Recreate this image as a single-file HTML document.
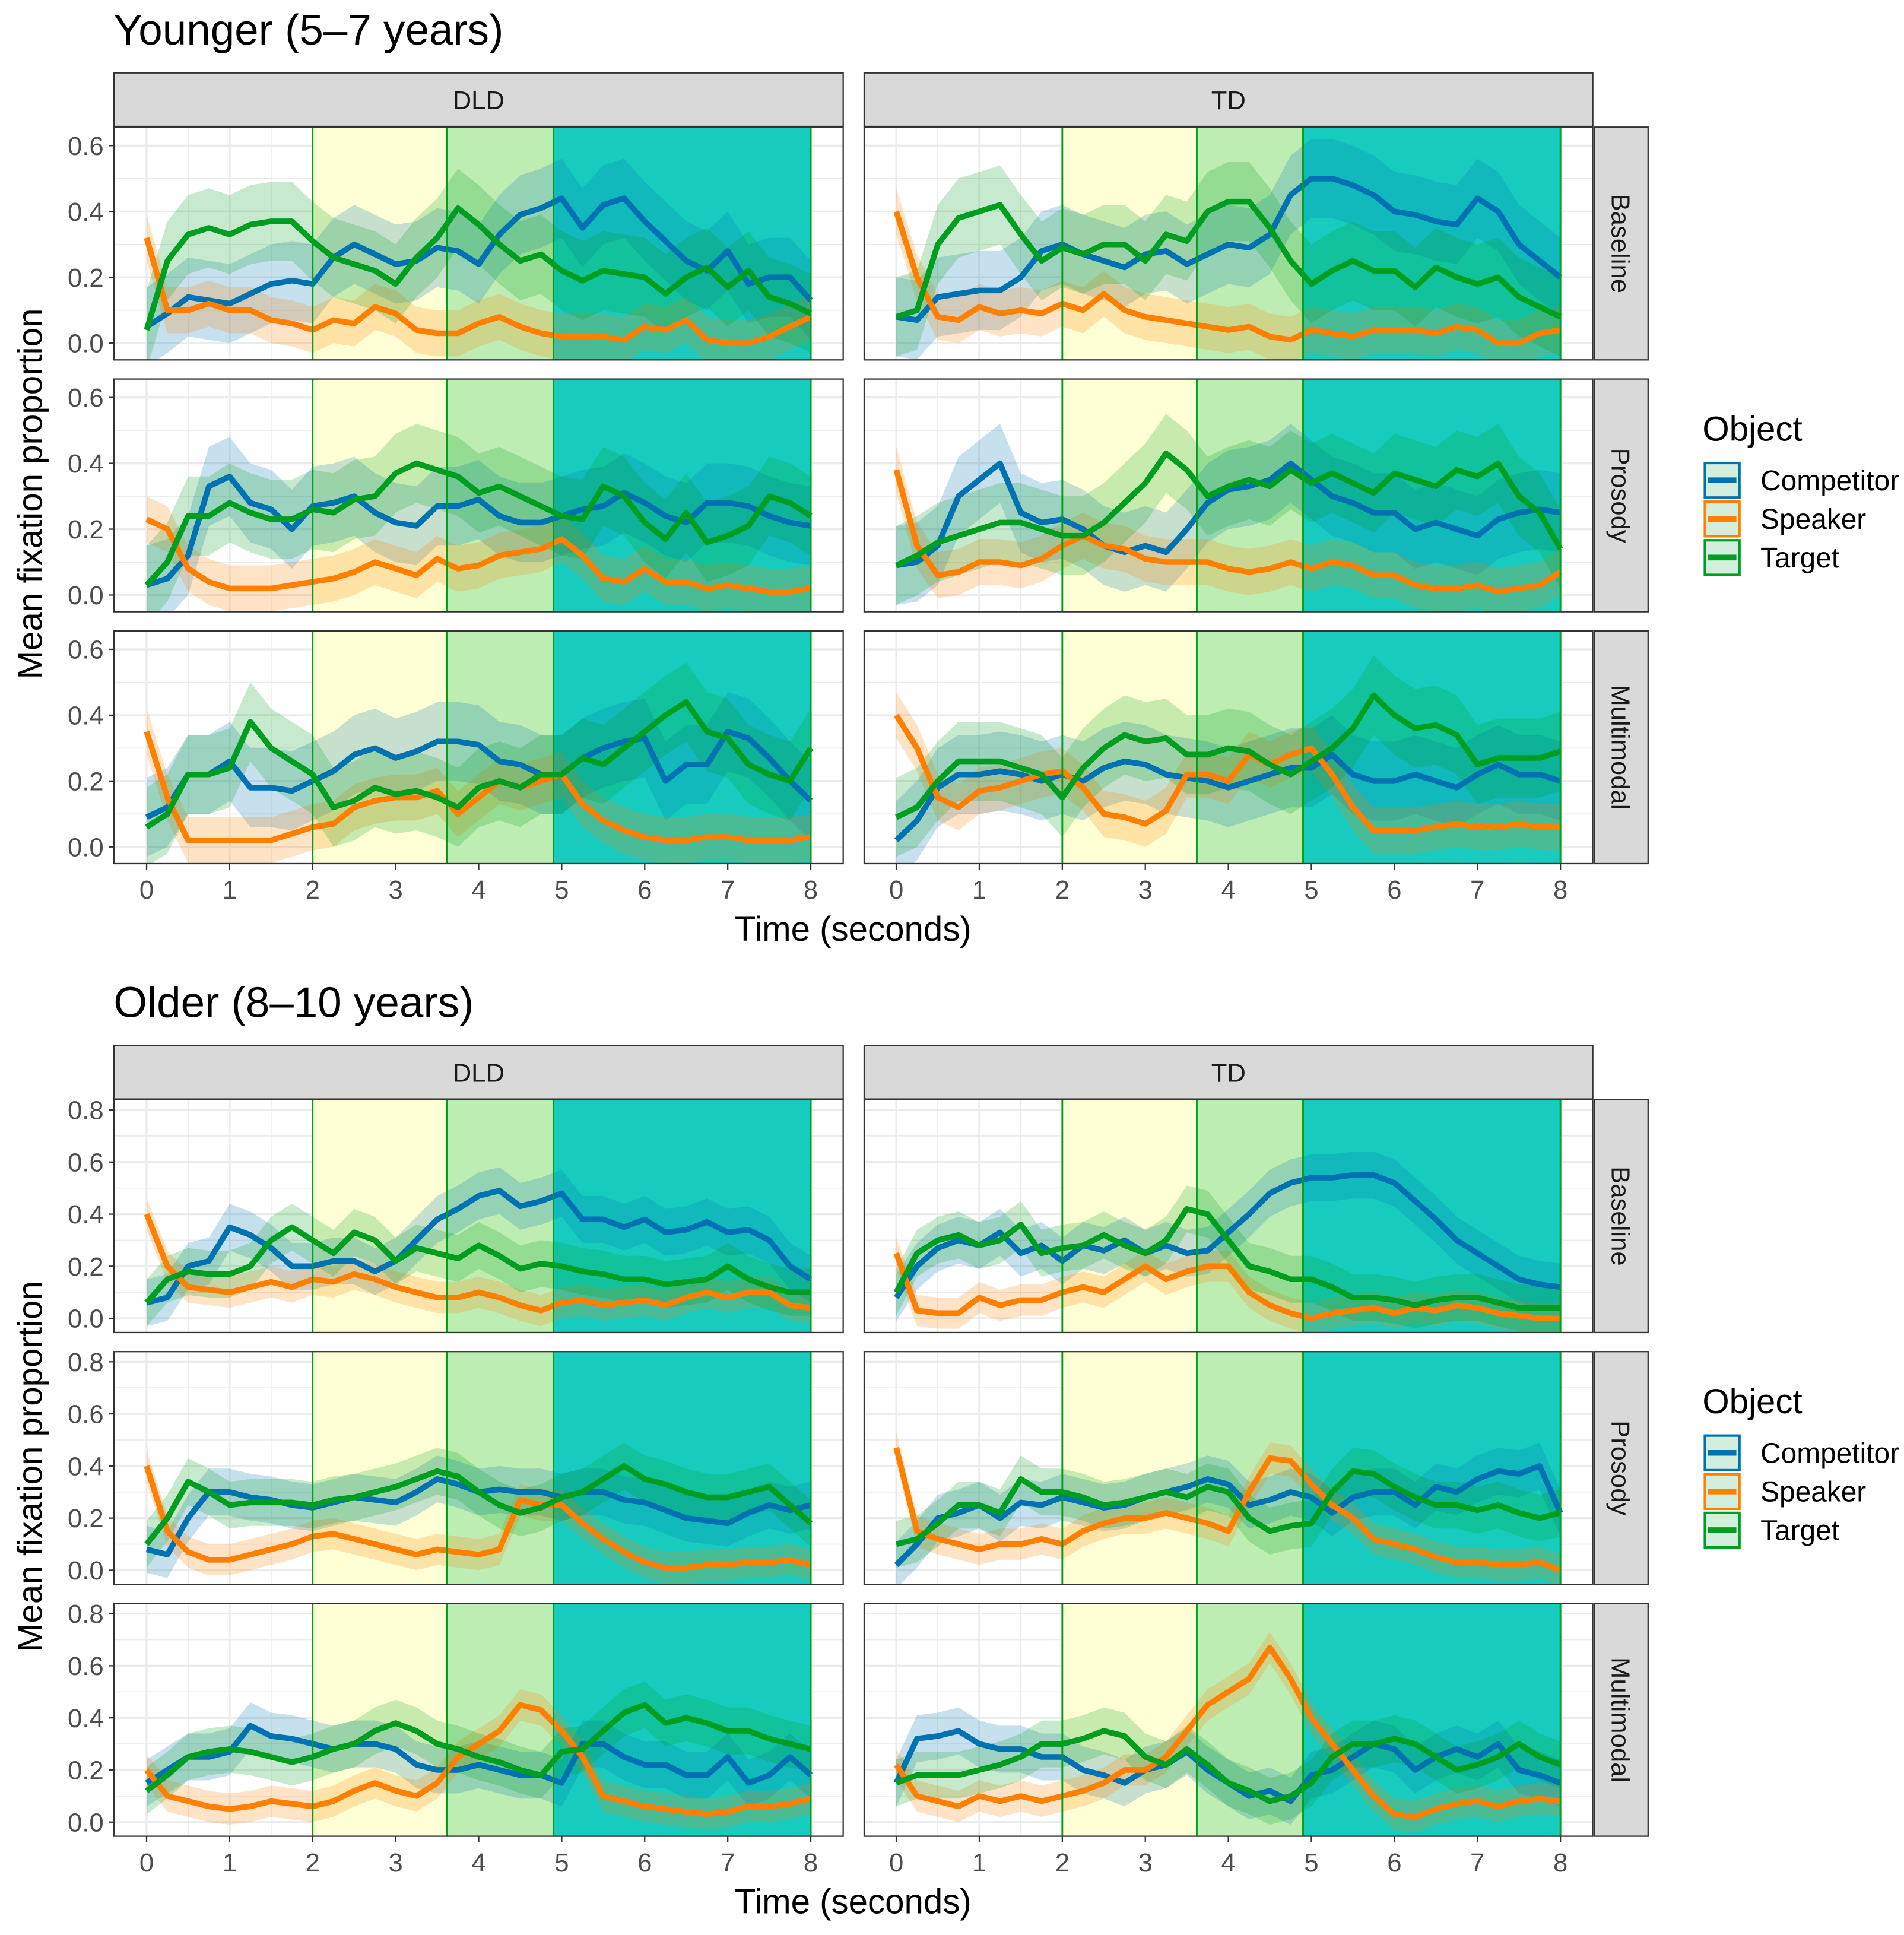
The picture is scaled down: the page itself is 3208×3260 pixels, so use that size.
<!DOCTYPE html>
<html><head><meta charset="utf-8">
<style>
html,body{margin:0;padding:0;background:#fff;}
svg{display:block;font-family:"Liberation Sans",Arial,sans-serif;}
</style></head>
<body>
<svg id="chart" xmlns="http://www.w3.org/2000/svg" width="3208" height="3260" viewBox="0 0 1542.3 1567.3"></svg>
<script>
// ---- data ----
const timePoints = [0,0.25,0.5,0.75,1,1.25,1.5,1.75,2,2.25,2.5,2.75,3,3.25,3.5,3.75,4,4.25,4.5,4.75,5,5.25,5.5,5.75,6,6.25,6.5,6.75,7,7.25,7.5,7.75,8];
const objects = ["Competitor","Speaker","Target"];
const groups = ["DLD","TD"];
const conditions = ["Baseline","Prosody","Multimodal"];
const blockTitles = ["Younger (5–7 years)","Older (8–10 years)"];
const phaseBounds = [2, 3.62, 4.9, 8];
const xTicks = [0,1,2,3,4,5,6,7,8];
const yTicksYoung = [0,0.2,0.4,0.6];
const yTicksOld = [0,0.2,0.4,0.6,0.8];
const ciHalfYoung = [0.12,0.07,0.12];
const ciHalfOld = [0.09,0.06,0.09];

// Younger
const yBaseDLD_C=[0.05,0.09,0.14,0.13,0.12,0.15,0.18,0.19,0.18,0.26,0.30,0.27,0.24,0.25,0.29,0.28,0.24,0.33,0.39,0.41,0.44,0.35,0.42,0.44,0.37,0.31,0.25,0.22,0.28,0.18,0.20,0.20,0.13];
const yBaseDLD_S=[0.32,0.10,0.10,0.12,0.10,0.10,0.07,0.06,0.04,0.07,0.06,0.11,0.09,0.04,0.03,0.03,0.06,0.08,0.05,0.03,0.02,0.02,0.02,0.01,0.05,0.04,0.07,0.01,0.00,0.00,0.02,0.05,0.08];
const yBaseDLD_T=[0.04,0.25,0.33,0.35,0.33,0.36,0.37,0.37,0.31,0.26,0.24,0.22,0.18,0.26,0.32,0.41,0.36,0.30,0.25,0.27,0.22,0.19,0.22,0.21,0.20,0.15,0.20,0.23,0.17,0.22,0.14,0.12,0.09];
const yBaseTD_C=[0.08,0.07,0.14,0.15,0.16,0.16,0.20,0.28,0.30,0.27,0.25,0.23,0.27,0.28,0.24,0.27,0.30,0.29,0.33,0.45,0.50,0.50,0.48,0.45,0.40,0.39,0.37,0.36,0.44,0.40,0.30,0.25,0.20];
const yBaseTD_S=[0.40,0.20,0.08,0.07,0.11,0.09,0.10,0.09,0.12,0.10,0.15,0.10,0.08,0.07,0.06,0.05,0.04,0.05,0.02,0.01,0.04,0.03,0.02,0.04,0.04,0.04,0.03,0.05,0.04,0.00,0.00,0.03,0.04];
const yBaseTD_T=[0.08,0.10,0.30,0.38,0.40,0.42,0.33,0.25,0.29,0.27,0.30,0.30,0.25,0.33,0.31,0.40,0.43,0.43,0.35,0.25,0.18,0.22,0.25,0.22,0.22,0.17,0.23,0.20,0.18,0.20,0.14,0.11,0.08];
const yProsDLD_C=[0.03,0.05,0.12,0.33,0.36,0.28,0.26,0.20,0.27,0.28,0.30,0.25,0.22,0.21,0.27,0.27,0.29,0.24,0.22,0.22,0.24,0.26,0.27,0.31,0.28,0.24,0.22,0.28,0.28,0.27,0.24,0.22,0.21];
const yProsDLD_S=[0.23,0.20,0.08,0.04,0.02,0.02,0.02,0.03,0.04,0.05,0.07,0.10,0.08,0.06,0.11,0.08,0.09,0.12,0.13,0.14,0.17,0.12,0.05,0.04,0.08,0.04,0.04,0.02,0.03,0.02,0.01,0.01,0.02];
const yProsDLD_T=[0.03,0.10,0.24,0.24,0.28,0.25,0.23,0.23,0.26,0.25,0.29,0.30,0.37,0.40,0.38,0.36,0.31,0.33,0.30,0.27,0.24,0.23,0.33,0.30,0.22,0.17,0.25,0.16,0.18,0.21,0.30,0.28,0.24];
const yProsTD_C=[0.09,0.10,0.15,0.30,0.35,0.40,0.25,0.22,0.23,0.20,0.15,0.13,0.15,0.13,0.20,0.28,0.32,0.33,0.35,0.40,0.35,0.30,0.28,0.25,0.25,0.20,0.22,0.20,0.18,0.23,0.25,0.26,0.25];
const yProsTD_S=[0.38,0.15,0.06,0.07,0.10,0.10,0.09,0.11,0.15,0.18,0.15,0.14,0.11,0.10,0.10,0.10,0.08,0.07,0.08,0.10,0.08,0.10,0.09,0.06,0.06,0.03,0.02,0.02,0.03,0.01,0.02,0.03,0.07];
const yProsTD_T=[0.09,0.12,0.16,0.18,0.20,0.22,0.22,0.20,0.18,0.18,0.22,0.28,0.34,0.43,0.38,0.30,0.33,0.35,0.33,0.38,0.34,0.37,0.34,0.31,0.37,0.35,0.33,0.38,0.36,0.40,0.30,0.25,0.14];
const yMultDLD_C=[0.09,0.12,0.22,0.22,0.26,0.18,0.18,0.17,0.20,0.23,0.28,0.30,0.27,0.29,0.32,0.32,0.31,0.26,0.25,0.22,0.22,0.27,0.30,0.32,0.33,0.20,0.25,0.25,0.35,0.33,0.27,0.20,0.14];
const yMultDLD_S=[0.35,0.15,0.02,0.02,0.02,0.02,0.02,0.04,0.06,0.07,0.12,0.14,0.15,0.15,0.17,0.10,0.15,0.20,0.18,0.20,0.22,0.13,0.08,0.05,0.03,0.02,0.02,0.03,0.03,0.02,0.02,0.02,0.03];
const yMultDLD_T=[0.06,0.10,0.22,0.22,0.24,0.38,0.30,0.26,0.22,0.12,0.14,0.18,0.16,0.17,0.15,0.12,0.18,0.20,0.18,0.22,0.22,0.27,0.25,0.30,0.35,0.40,0.44,0.35,0.33,0.25,0.22,0.20,0.30];
const yMultTD_C=[0.02,0.08,0.18,0.22,0.22,0.23,0.22,0.20,0.22,0.20,0.24,0.26,0.25,0.22,0.21,0.20,0.18,0.20,0.22,0.24,0.24,0.28,0.22,0.20,0.20,0.22,0.20,0.18,0.22,0.25,0.22,0.22,0.20];
const yMultTD_S=[0.40,0.30,0.15,0.12,0.17,0.18,0.20,0.22,0.23,0.18,0.10,0.09,0.07,0.11,0.22,0.22,0.20,0.28,0.25,0.28,0.30,0.22,0.12,0.05,0.05,0.05,0.06,0.07,0.06,0.06,0.07,0.06,0.06];
const yMultTD_T=[0.09,0.12,0.20,0.26,0.26,0.26,0.24,0.22,0.15,0.24,0.30,0.34,0.32,0.33,0.28,0.28,0.30,0.29,0.25,0.22,0.26,0.30,0.36,0.46,0.40,0.36,0.37,0.34,0.25,0.27,0.27,0.27,0.29];
// Older
const oBaseDLD_C=[0.06,0.08,0.20,0.22,0.35,0.32,0.27,0.20,0.20,0.22,0.22,0.18,0.22,0.30,0.38,0.42,0.47,0.49,0.43,0.45,0.48,0.38,0.38,0.35,0.38,0.33,0.34,0.37,0.33,0.34,0.30,0.20,0.15];
const oBaseDLD_S=[0.40,0.20,0.12,0.11,0.10,0.12,0.14,0.12,0.15,0.14,0.17,0.15,0.12,0.10,0.08,0.08,0.10,0.08,0.05,0.03,0.06,0.07,0.05,0.06,0.07,0.05,0.08,0.10,0.08,0.10,0.10,0.05,0.04];
const oBaseDLD_T=[0.06,0.15,0.18,0.17,0.17,0.20,0.30,0.35,0.30,0.25,0.33,0.30,0.22,0.27,0.25,0.23,0.28,0.24,0.19,0.21,0.20,0.18,0.17,0.15,0.15,0.13,0.14,0.15,0.20,0.15,0.12,0.10,0.10];
const oBaseTD_C=[0.08,0.20,0.27,0.30,0.28,0.33,0.25,0.28,0.22,0.28,0.26,0.30,0.25,0.28,0.25,0.26,0.33,0.40,0.48,0.52,0.54,0.54,0.55,0.55,0.52,0.45,0.38,0.30,0.25,0.20,0.15,0.13,0.12];
const oBaseTD_S=[0.25,0.03,0.02,0.02,0.08,0.05,0.07,0.07,0.10,0.12,0.10,0.15,0.20,0.15,0.18,0.20,0.20,0.10,0.05,0.02,0.00,0.02,0.03,0.04,0.02,0.04,0.03,0.05,0.04,0.02,0.01,0.00,0.00];
const oBaseTD_T=[0.10,0.25,0.30,0.32,0.28,0.30,0.36,0.25,0.27,0.28,0.32,0.28,0.25,0.30,0.42,0.40,0.30,0.20,0.18,0.15,0.15,0.12,0.08,0.08,0.07,0.05,0.07,0.08,0.08,0.06,0.04,0.04,0.04];
const oProsDLD_C=[0.08,0.06,0.20,0.30,0.30,0.28,0.27,0.25,0.24,0.26,0.28,0.27,0.26,0.30,0.35,0.33,0.30,0.31,0.30,0.30,0.28,0.30,0.30,0.27,0.26,0.23,0.20,0.19,0.18,0.22,0.25,0.23,0.25];
const oProsDLD_S=[0.40,0.15,0.07,0.04,0.04,0.06,0.08,0.10,0.13,0.14,0.12,0.10,0.08,0.06,0.08,0.07,0.06,0.08,0.27,0.25,0.25,0.18,0.12,0.07,0.03,0.01,0.01,0.02,0.02,0.03,0.03,0.04,0.02];
const oProsDLD_T=[0.10,0.20,0.34,0.30,0.25,0.26,0.26,0.26,0.25,0.27,0.28,0.30,0.32,0.35,0.38,0.36,0.30,0.25,0.22,0.24,0.28,0.30,0.35,0.40,0.35,0.33,0.30,0.28,0.28,0.30,0.32,0.25,0.18];
const oProsTD_C=[0.02,0.10,0.20,0.22,0.25,0.20,0.26,0.25,0.28,0.26,0.24,0.25,0.28,0.30,0.32,0.35,0.33,0.25,0.27,0.30,0.28,0.22,0.28,0.30,0.30,0.25,0.32,0.30,0.35,0.38,0.37,0.40,0.22];
const oProsTD_S=[0.47,0.15,0.12,0.10,0.08,0.10,0.10,0.12,0.10,0.15,0.18,0.20,0.20,0.22,0.20,0.18,0.15,0.30,0.43,0.42,0.33,0.25,0.20,0.12,0.10,0.08,0.05,0.03,0.03,0.02,0.02,0.03,0.00];
const oProsTD_T=[0.10,0.12,0.18,0.25,0.25,0.22,0.35,0.30,0.30,0.28,0.25,0.26,0.28,0.30,0.28,0.32,0.30,0.20,0.15,0.17,0.18,0.30,0.38,0.37,0.32,0.28,0.25,0.25,0.23,0.25,0.22,0.20,0.22];
const oMultDLD_C=[0.15,0.20,0.25,0.25,0.27,0.37,0.33,0.32,0.30,0.28,0.30,0.30,0.28,0.22,0.20,0.20,0.22,0.20,0.18,0.18,0.15,0.30,0.30,0.25,0.22,0.22,0.18,0.18,0.25,0.15,0.18,0.25,0.18];
const oMultDLD_S=[0.20,0.10,0.08,0.06,0.05,0.06,0.08,0.07,0.06,0.08,0.12,0.15,0.12,0.10,0.15,0.25,0.30,0.35,0.45,0.43,0.35,0.25,0.10,0.08,0.06,0.05,0.04,0.03,0.04,0.06,0.06,0.07,0.09];
const oMultDLD_T=[0.12,0.18,0.25,0.27,0.28,0.27,0.25,0.23,0.25,0.28,0.30,0.35,0.38,0.35,0.30,0.28,0.25,0.23,0.20,0.18,0.27,0.28,0.35,0.42,0.45,0.38,0.40,0.38,0.35,0.35,0.32,0.30,0.28];
const oMultTD_C=[0.15,0.32,0.33,0.35,0.30,0.28,0.28,0.25,0.25,0.20,0.18,0.15,0.20,0.22,0.27,0.20,0.15,0.10,0.12,0.08,0.18,0.20,0.25,0.30,0.28,0.20,0.25,0.28,0.25,0.30,0.20,0.18,0.15];
const oMultTD_S=[0.22,0.10,0.08,0.06,0.10,0.08,0.10,0.08,0.10,0.12,0.15,0.20,0.20,0.25,0.35,0.45,0.50,0.55,0.67,0.55,0.40,0.30,0.20,0.10,0.03,0.02,0.05,0.07,0.08,0.06,0.08,0.09,0.08];
const oMultTD_T=[0.15,0.18,0.18,0.18,0.20,0.22,0.25,0.30,0.30,0.32,0.35,0.33,0.25,0.22,0.28,0.22,0.15,0.12,0.08,0.10,0.15,0.25,0.30,0.30,0.32,0.30,0.25,0.20,0.22,0.25,0.30,0.25,0.22];

const panelSeries = [
 [
  [[yBaseDLD_C,yBaseDLD_S,yBaseDLD_T],[yBaseTD_C,yBaseTD_S,yBaseTD_T]],
  [[yProsDLD_C,yProsDLD_S,yProsDLD_T],[yProsTD_C,yProsTD_S,yProsTD_T]],
  [[yMultDLD_C,yMultDLD_S,yMultDLD_T],[yMultTD_C,yMultTD_S,yMultTD_T]]
 ],
 [
  [[oBaseDLD_C,oBaseDLD_S,oBaseDLD_T],[oBaseTD_C,oBaseTD_S,oBaseTD_T]],
  [[oProsDLD_C,oProsDLD_S,oProsDLD_T],[oProsTD_C,oProsTD_S,oProsTD_T]],
  [[oMultDLD_C,oMultDLD_S,oMultDLD_T],[oMultTD_C,oMultTD_S,oMultTD_T]]
 ]
];

// ---- layout / styles ----
const NS = 'http://www.w3.org/2000/svg';
const svg = document.getElementById('chart');
const colors = ['#0072B2','#FF7F00','#009E20'];
const phaseColors = ['#FFFFD5','#BDEDB3','#17CCBF'];
const colLeft = [92.3, 700];
const colRight = [683, 1290.2];
const colX0 = [118.75, 726];
const pxPerSec = 67.25;
const rowTop = [103, 307, 511];
const rowH = 188.5;
const blockOff = [0, 787.8];
const yMaxB = [0.656, 0.839];
const ppuB = [266.7, 211];

function el(tag, attrs, parent) {
  const e = document.createElementNS(NS, tag);
  for (const k in attrs) e.setAttribute(k, attrs[k]);
  (parent || svg).appendChild(e);
  return e;
}
function xScale(col, t) { return colX0[col] + t * pxPerSec; }
function yScale(b, row, v) { return blockOff[b] + rowTop[row] + (yMaxB[b] - v) * ppuB[b]; }

const defs = el('defs', {});
for (let b = 0; b < 2; b++) {
  const off = blockOff[b];
  const yTicks = b === 0 ? yTicksYoung : yTicksOld;
  const ciHalf = b === 0 ? ciHalfYoung : ciHalfOld;

  const title = el('text', {x: 92, y: off + 36, 'font-size': 35, fill: '#000'});
  title.textContent = blockTitles[b];
  
  

  for (let c = 0; c < 2; c++) {
    const strip = el('rect', {x: colLeft[c], y: off + 59, width: colRight[c] - colLeft[c], height: 43.4, fill: '#D9D9D9', stroke: '#333', 'stroke-width': 1.1});
    
    
    const st = el('text', {x: (colLeft[c] + colRight[c]) / 2, y: off + 88.5, 'font-size': 21, 'text-anchor': 'middle', fill: '#1A1A1A'});
    st.textContent = groups[c];
    
    
  }

  for (let r = 0; r < 3; r++) {
    const top = off + rowTop[r];
    const rs = el('rect', {x: 1291.7, y: top, width: 43.3, height: rowH, fill: '#D9D9D9', stroke: '#333', 'stroke-width': 1.1});
    
    
    const rt = el('text', {x: 0, y: 0, 'font-size': 21, 'text-anchor': 'middle', fill: '#1A1A1A', transform: 'translate(1305.5,' + (top + rowH / 2) + ') rotate(90)'});
    rt.textContent = conditions[r];
    
    

    for (const v of yTicks) {
      const yy = yScale(b, r, v);
      const tk = el('line', {x1: 88, x2: 92.3, y1: yy, y2: yy, stroke: '#333', 'stroke-width': 1.1});
      
      
      const tl = el('text', {x: 84, y: yy + 7.5, 'font-size': 21, 'text-anchor': 'end', fill: '#4D4D4D'});
      tl.textContent = v.toFixed(1);
      
      
    }

    for (let c = 0; c < 2; c++) {
      const L = colLeft[c], R = colRight[c];
      const g = el('g', {});
      
      
      const cid = 'clip' + b + r + c;
      const cp = el('clipPath', {id: cid}, defs);
      el('rect', {x: L, y: top, width: R - L, height: rowH}, cp);
      el('rect', {x: L, y: top, width: R - L, height: rowH, fill: '#fff'}, g);
      for (let i = 0; i < yTicks.length; i++) {
        const yy = yScale(b, r, yTicks[i] + 0.1);
        if (yy > top) el('line', {x1: L, x2: R, y1: yy, y2: yy, stroke: '#EBEBEB', 'stroke-width': 0.8}, g);
      }
      for (const t of xTicks) {
        if (t < 8) { const xx = xScale(c, t + 0.5); el('line', {x1: xx, x2: xx, y1: top, y2: top + rowH, stroke: '#EBEBEB', 'stroke-width': 0.8}, g); }
      }
      for (const v of yTicks) { const yy = yScale(b, r, v); el('line', {x1: L, x2: R, y1: yy, y2: yy, stroke: '#EBEBEB', 'stroke-width': 1.6}, g); }
      for (const t of xTicks) { const xx = xScale(c, t); el('line', {x1: xx, x2: xx, y1: top, y2: top + rowH, stroke: '#EBEBEB', 'stroke-width': 1.6}, g); }
      for (let p = 0; p < 3; p++) {
        const x1 = xScale(c, phaseBounds[p]), x2 = xScale(c, phaseBounds[p + 1]);
        const pr = el('rect', {x: x1, y: top, width: x2 - x1, height: rowH, fill: phaseColors[p]}, g);
        
        
      }
      const series = panelSeries[b][r][c];
      const dg = el('g', {'clip-path': 'url(#' + cid + ')'}, g);
      for (let s = 0; s < 3; s++) {
        const vals = series[s];
        let up = [], lo = [];
        for (let i = 0; i < timePoints.length; i++) {
          up.push(xScale(c, timePoints[i]).toFixed(2) + ',' + yScale(b, r, vals[i] + ciHalf[s]).toFixed(2));
          lo.unshift(xScale(c, timePoints[i]).toFixed(2) + ',' + yScale(b, r, vals[i] - ciHalf[s]).toFixed(2));
        }
        const rib = el('polygon', {points: up.concat(lo).join(' '), fill: colors[s], 'fill-opacity': 0.22}, dg);
        
        
      }
      for (const pb of phaseBounds) {
        const xx = xScale(c, pb);
        const ln = el('line', {x1: xx, x2: xx, y1: top, y2: top + rowH, stroke: '#00A01A', 'stroke-width': 1.4}, g);
        
        
      }
      for (let s = 0; s < 3; s++) {
        const vals = series[s];
        const pts = timePoints.map((t, i) => xScale(c, t).toFixed(2) + ',' + yScale(b, r, vals[i]).toFixed(2)).join(' ');
        const pl = el('polyline', {points: pts, fill: 'none', stroke: colors[s], 'stroke-width': 4.6, 'stroke-linejoin': 'round'}, dg);
        
        
      }
      el('rect', {x: L, y: top, width: R - L, height: rowH, fill: 'none', stroke: '#333', 'stroke-width': 1.1}, g);

      if (r === 2) {
        for (const t of xTicks) {
          const xx = xScale(c, t);
          const xt = el('line', {x1: xx, x2: xx, y1: top + rowH, y2: top + rowH + 5, stroke: '#333', 'stroke-width': 1.1});
          
          
          const xl = el('text', {x: xx, y: off + 728, 'font-size': 21, 'text-anchor': 'middle', fill: '#4D4D4D'});
          xl.textContent = String(t);
          
          
        }
      }
    }
  }

  const xt = el('text', {x: 691, y: off + 762, 'font-size': 28, 'text-anchor': 'middle', fill: '#000'});
  xt.textContent = 'Time (seconds)';
  
  
  const yt = el('text', {x: 0, y: 0, 'font-size': 28, 'text-anchor': 'middle', fill: '#000', transform: 'translate(34,' + (off + 400) + ') rotate(-90)'});
  yt.textContent = 'Mean fixation proportion';
  
  

  const lg = el('g', {});
  
  
  const lt = el('text', {x: 1379, y: off + 357, 'font-size': 28, fill: '#000'}, lg);
  lt.textContent = 'Object';
  for (let s = 0; s < 3; s++) {
    const by = off + 375 + s * 31.3;
    const key = el('rect', {x: 1381, y: by, width: 28, height: 28, fill: '#D2EFDD', stroke: colors[s], 'stroke-width': 2}, lg);
    
    
    el('line', {x1: 1383.5, x2: 1406.5, y1: by + 14, y2: by + 14, stroke: colors[s], 'stroke-width': 4.6}, lg);
    const tx = el('text', {x: 1426, y: by + 22, 'font-size': 23, fill: '#000'}, lg);
    tx.textContent = objects[s];
    
    
  }
}
</script>
</body></html>
